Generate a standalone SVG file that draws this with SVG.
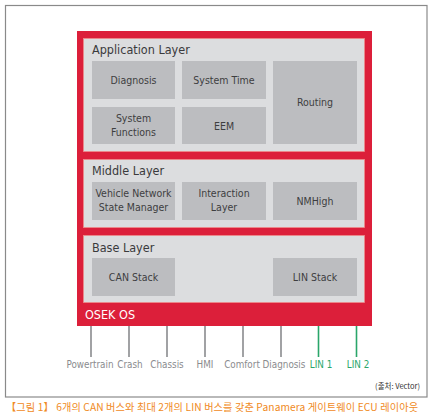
<svg xmlns="http://www.w3.org/2000/svg" width="434" height="419" viewBox="0 0 434 419">
<style>
.t{font-family:"DejaVu Sans Condensed","Liberation Sans Narrow","Liberation Sans",sans-serif;}
.title{font-size:12.5px;fill:#3a3a3c;}
.lbl{font-size:10.5px;fill:#3e3e40;text-anchor:middle;}
.bus{font-size:9.8px;fill:#8a8b8e;text-anchor:middle;}
.lin{fill:#2aa66a;}
.panel{fill:#dcdddf;stroke:#ee8a8a;stroke-width:0.8;}
.box{fill:#bcbdc0;}
.gl{stroke:#8a8b8e;stroke-width:1.6;}
.gr{stroke:#2aa66a;stroke-width:1.6;}
</style>
<rect x="0" y="0" width="434" height="419" fill="#ffffff"/>
<rect x="5.5" y="5.5" width="421.5" height="391.5" fill="#ffffff" stroke="#8a8a8a" stroke-width="1.2"/>
<g id="ecu">
<rect x="77" y="31" width="295" height="295" fill="#dc1f3a"/>
<text class="t" x="85" y="319" font-size="12.5" fill="#ffffff">OSEK OS</text>
</g>
<g id="application-layer">
<rect class="panel" x="83.5" y="38.5" width="281" height="113"/>
<text class="t title" x="92" y="54">Application Layer</text>
</g>
<g id="diagnosis"><rect class="box" x="92" y="61" width="83" height="38"/><text class="t lbl" x="133.5" y="84">Diagnosis</text></g>
<g id="system-time"><rect class="box" x="182" y="61" width="84" height="38"/><text class="t lbl" x="224" y="84">System Time</text></g>
<g id="routing"><rect class="box" x="273" y="61" width="84" height="83"/><text class="t lbl" x="315" y="106">Routing</text></g>
<g id="system-functions"><rect class="box" x="92" y="107" width="83" height="37"/><text class="t lbl" x="133.5" y="122">System</text><text class="t lbl" x="133.5" y="136">Functions</text></g>
<g id="eem"><rect class="box" x="182" y="107" width="84" height="37"/><text class="t lbl" x="224" y="130">EEM</text></g>
<g id="middle-layer">
<rect class="panel" x="83.5" y="159.5" width="281" height="68"/>
<text class="t title" x="92" y="175">Middle Layer</text>
</g>
<g id="vnsm"><rect class="box" x="92" y="182" width="83" height="38"/><text class="t lbl" x="133.5" y="197">Vehicle Network</text><text class="t lbl" x="133.5" y="211">State Manager</text></g>
<g id="interaction-layer"><rect class="box" x="182" y="182" width="84" height="38"/><text class="t lbl" x="224" y="197">Interaction</text><text class="t lbl" x="224" y="211">Layer</text></g>
<g id="nmhigh"><rect class="box" x="273" y="182" width="84" height="38"/><text class="t lbl" x="315" y="205">NMHigh</text></g>
<g id="base-layer">
<rect class="panel" x="83.5" y="235.5" width="281" height="67"/>
<text class="t title" x="92" y="252">Base Layer</text>
</g>
<g id="can-stack"><rect class="box" x="92" y="258" width="83" height="38"/><text class="t lbl" x="133.5" y="281">CAN Stack</text></g>
<g id="lin-stack"><rect class="box" x="273" y="258" width="84" height="38"/><text class="t lbl" x="315" y="281">LIN Stack</text></g>
<g id="connectors">
<line class="gl" x1="91" y1="326" x2="91" y2="357"/>
<line class="gl" x1="129" y1="326" x2="129" y2="357"/>
<line class="gl" x1="167" y1="326" x2="167" y2="357"/>
<line class="gl" x1="205" y1="326" x2="205" y2="357"/>
<line class="gl" x1="243" y1="326" x2="243" y2="357"/>
<line class="gl" x1="281" y1="326" x2="281" y2="357"/>
<line class="gr" x1="318.5" y1="326" x2="318.5" y2="357"/>
<line class="gr" x1="356.5" y1="326" x2="356.5" y2="357"/>
</g>
<g id="bus-labels">
<text class="t bus" x="90" y="368">Powertrain</text>
<text class="t bus" x="130" y="368">Crash</text>
<text class="t bus" x="167" y="368">Chassis</text>
<text class="t bus" x="205" y="368">HMI</text>
<text class="t bus" x="242" y="368">Comfort</text>
<text class="t bus" x="284" y="368">Diagnosis</text>
<text class="t bus lin" x="321" y="368">LIN 1</text>
<text class="t bus lin" x="358" y="368">LIN 2</text>
</g>
<text x="420" y="389" font-family="'Noto Sans CJK KR',sans-serif" font-size="7.5" fill="#333333" text-anchor="end">(출처: Vector)</text>
<text x="6" y="411" font-family="'Noto Sans CJK KR',sans-serif" font-size="10.2" fill="#f08a24" textLength="412" lengthAdjust="spacing">【그림 1】 6개의 CAN 버스와 최대 2개의 LIN 버스를 갖춘 Panamera 게이트웨이 ECU 레이아웃</text>
</svg>
